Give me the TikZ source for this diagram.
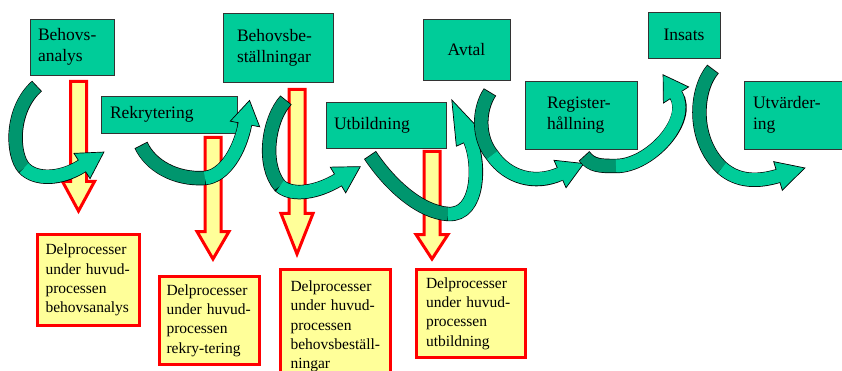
\documentclass[tikz,border=0pt]{standalone}
\usepackage{fontspec}
\setmainfont{Liberation Serif}
\usetikzlibrary{calc}
\definecolor{boxgreen}{RGB}{0,204,153}
\definecolor{ribbondark}{RGB}{0,150,110}
\definecolor{noteyellow}{RGB}{255,255,153}

\newcommand{\notefont}{\fontsize{15.5}{19.3}\selectfont\hyphenpenalty10000\relax}
\newcommand{\ribbon}[9]{%
    \draw[line width=14.4pt] #1 .. controls #2 and #3 .. #4 .. controls #5 and #6 .. #7;
    \filldraw[fill=boxgreen, line width=0.7pt, line join=miter] ($#7!#8!180:#6$) -- ($#7!#9!90:#6$) -- ($#7!#9!-90:#6$) -- cycle;
    \draw[line width=13pt, ribbondark, shorten <=0.8pt] #1 .. controls #2 and #3 .. #4;
    \draw[line width=13pt, boxgreen, shorten >=-1.5pt] #4 .. controls #5 and #6 .. #7;}
\newcommand{\downblock}[4]{%
    \filldraw[yarrow] (#1-8,#2) -- (#1+8,#2) -- (#1+8,#3) -- (#1+16,#3) -- (#1,#4) -- (#1-16,#3) -- (#1-8,#3) -- cycle;}

\begin{document}
\begin{tikzpicture}[x=1pt, y=-1pt,
        gbox/.style={draw=black!80, fill=boxgreen, line width=0.8pt, align=left, inner ysep=0pt, font=\fontsize{17.5}{21}\selectfont},
        ybox/.style={draw=red, fill=noteyellow, line width=3pt, align=left, inner ysep=0pt, font=\notefont},
        yarrow/.style={draw=red, fill=noteyellow, line width=3pt, line join=miter}]
            \useasboundingbox (0,0) rectangle (842,371);

            \node[gbox, minimum width=84pt, minimum height=56pt, inner xsep=8pt, text width=68pt] (analys) at (72,47) {Behovs-\\analys};
            \node[gbox, minimum width=136pt, minimum height=37pt, inner xsep=9pt, text width=118pt] (rekry) at (169,114.5) {Rekrytering};
            \node[gbox, minimum width=110pt, minimum height=69pt, inner xsep=14pt, text width=82pt] (bestall) at (278,47.5) {Behovsbe-\\ställningar};
            \node[gbox, minimum width=120pt, minimum height=46pt, inner xsep=8pt, text width=104pt] (utbild) at (386,125) {Utbildning};
            \node[gbox, minimum width=87pt, minimum height=61pt, inner xsep=8pt, text width=71pt, align=center] (avtal) at (466.5,49.5) {Avtal};
            \node[gbox, minimum width=112pt, minimum height=68pt, inner xsep=22pt, text width=68pt] (register) at (581,115) {Register-\\hållning};
            \node[gbox, minimum width=72pt, minimum height=46pt, inner xsep=8pt, text width=56pt, align=center] (insats) at (684,35) {Insats};
            \node[gbox, minimum width=101pt, minimum height=68pt, inner xsep=9pt, text width=83pt] (utvard) at (794.5,115) {Utvärder-\\ing};

            \downblock{78.5}{81.5}{181.5}{211}
            \downblock{213}{137.5}{231.5}{259}
            \downblock{297}{89.5}{213.5}{254}
            \downblock{432}{151.5}{234.5}{259}

            \node[ybox, minimum width=102pt, minimum height=91pt, inner xsep=8pt, text width=86pt] (del-analys) at (88.5,280) {Delprocesser\\under huvud-\\processen\\behovsanalys};
            \node[ybox, minimum width=100pt, minimum height=88pt, inner xsep=7pt, text width=86pt] (del-rekry) at (209.5,320.5) {Delprocesser\\under huvud-\\processen\\rekry-tering};
            \node[ybox, minimum width=110pt, minimum height=114pt, inner xsep=10pt, text width=90pt] (del-bestall) at (335.5,326.5) {Delprocesser\\under huvud-\\processen\\behovsbeställ-\\ningar};
            \node[ybox, minimum width=109pt, minimum height=88pt, inner xsep=9.5pt, text width=90pt] (del-utbild) at (471,313.5) {Delprocesser\\under huvud-\\processen\\utbildning};

            \coordinate (t-a) at (37,86);   \coordinate (h-a) at (82,166);
            \coordinate (t-b) at (141,145); \coordinate (h-b) at (245,124);
            \coordinate (t-c) at (286,100); \coordinate (h-c) at (338,180);
            \coordinate (t-d) at (370,155); \coordinate (h-d) at (470,140);
            \coordinate (t-e) at (490,92);  \coordinate (h-e) at (560,174);
            \coordinate (t-f) at (584,156); \coordinate (h-f) at (676,95);
            \coordinate (t-g) at (713,69);  \coordinate (h-g) at (778,176);

            \ribbon{(t-a)}{(10,110)}{(12,155)}{(24,168)}{(35,180)}{(60,180)}{(h-a)}{26pt}{15pt}
            \ribbon{(t-b)}{(150,165)}{(175,180)}{(205,178)}{(225,176)}{(240,150)}{(h-b)}{24pt}{15pt}
            \ribbon{(t-c)}{(268,120)}{(262,165)}{(280,186)}{(293,197)}{(318,192)}{(h-c)}{26pt}{15pt}
            \ribbon{(t-d)}{(390,185)}{(420,212)}{(448,214)}{(480,216)}{(480,162)}{(h-d)}{44pt}{15pt}
            \ribbon{(t-e)}{(478,110)}{(478,138)}{(492,155)}{(508,178)}{(535,185)}{(h-e)}{26pt}{15pt}
            \ribbon{(t-f)}{(592,166)}{(600,166)}{(616,166)}{(650,166)}{(692,120)}{(h-f)}{24pt}{15pt}
            \ribbon{(t-g)}{(695,90)}{(692,140)}{(722,168)}{(738,182)}{(758,182)}{(h-g)}{28pt}{15pt}
\end{tikzpicture}
\end{document}
